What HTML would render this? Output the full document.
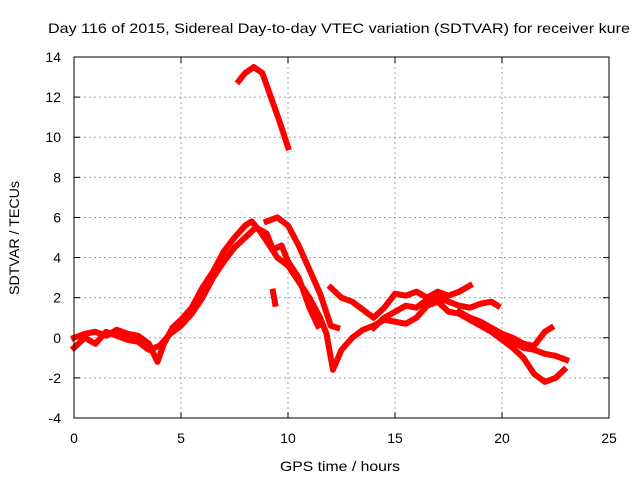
<!DOCTYPE html>
<html><head><meta charset="utf-8"><style>
body{margin:0;background:#fff}
svg{display:block;font-family:"Liberation Sans",sans-serif}
</style></head><body>
<svg id="c" width="640" height="480"></svg>
<script>
const xTicks=[0,5,10,15,20,25];
const yTicks=[-4,-2,0,2,4,6,8,10,12,14];
const trace1X=[7.7,8,8.4,8.8,9.2,9.6,10];
const trace1Y=[12.8,13.2,13.5,13.2,12,10.8,9.5];
const trace2X=[0,0.5,1,1.5,2,2.5,3,3.5,3.9,4.2,4.6,5,5.5,6,6.5,7,7.5,8,8.3,8.7,9.2,9.5,10,10.5,11,11.5,11.8,12.1,12.5,13,13.5,14,14.5,15,15.5,16,16.5,17,17.5,18,18.5,19,19.5,20,20.5,21,21.5,22,22.5,22.9];
const trace2Y=[0,0.2,0.3,0.1,0.4,0.2,0.1,-0.3,-1.2,-0.3,0.5,0.9,1.5,2.5,3.3,4.3,5.0,5.6,5.8,5.3,4.5,4.0,3.6,2.8,2.0,1.0,0.2,-1.6,-0.6,0,0.4,0.6,0.9,0.8,0.7,1.0,1.6,1.8,1.3,1.2,0.9,0.6,0.3,-0.1,-0.5,-1.0,-1.8,-2.2,-2.0,-1.6];
const trace3X=[0,0.5,1,1.5,2,2.5,3,3.5,4,4.5,5,5.5,6,6.5,7,7.5,8,8.5,9,9.3,9.7,10,10.5,11,11.4];
const trace3Y=[-0.5,0,-0.3,0.3,0.1,-0.1,-0.2,-0.6,-0.4,0.2,0.6,1.2,2.0,3.0,3.8,4.5,5.0,5.5,5.2,4.4,4.6,3.8,3.0,1.5,0.6];
const trace4X=[9,9.5,10,10.5,11,11.5,12,12.3];
const trace4Y=[5.8,6.0,5.6,4.6,3.4,2.2,0.6,0.5];
const trace5X=[12,12.5,13,13.5,14,14.5,15,15.5,16,16.5,17,17.5,18,18.5];
const trace5Y=[2.5,2.0,1.8,1.4,1.0,1.5,2.2,2.1,2.3,2.0,2.3,2.1,2.3,2.6];
const trace6X=[14,14.5,15,15.5,16,16.5,17,17.5,18,18.5,19,19.5,19.8];
const trace6Y=[0.5,1.0,1.3,1.6,1.5,1.9,2.0,1.8,1.6,1.5,1.7,1.8,1.6];
const trace7X=[18,18.5,19,19.5,20,20.5,21,21.5,22,22.3];
const trace7Y=[1.3,1.0,0.8,0.5,0.2,0.0,-0.3,-0.4,0.3,0.5];
const trace8X=[20,20.5,21,21.5,22,22.5,23];
const trace8Y=[0.1,-0.2,-0.5,-0.6,-0.8,-0.9,-1.1];
const trace9X=[9.3,9.4];
const trace9Y=[2.3,1.7];
const traces=[[trace1X,trace1Y],[trace2X,trace2Y],[trace3X,trace3Y],[trace4X,trace4Y],[trace5X,trace5Y],[trace6X,trace6Y],[trace7X,trace7Y],[trace8X,trace8Y],[trace9X,trace9Y]];

const L=74,R=609,T=57,B=418;
const sx=v=>L+(v-0)/(25-0)*(R-L);
const sy=v=>B-(v+4)/(14+4)*(B-T);
const svg=document.getElementById('c');
const NS='http://www.w3.org/2000/svg';
function mk(t,a){const e=document.createElementNS(NS,t);for(const k in a)e.setAttribute(k,a[k]);svg.appendChild(e);return e;}
function tx(x,y,s,anchor,rot,size){const e=mk('text',{x:x,y:y,'font-size':size||14,fill:'#000','text-anchor':anchor});if(rot)e.setAttribute('transform',rot);e.textContent=s;return e;}

xTicks.forEach(v=>{
  if(v>0&&v<25){const g=mk('line',{x1:sx(v),x2:sx(v),y1:T,y2:B,stroke:'#a0a0a0','stroke-dasharray':'2,3'});
  
  }
  mk('line',{x1:sx(v),x2:sx(v),y1:B,y2:B-6,stroke:'#000'});
  mk('line',{x1:sx(v),x2:sx(v),y1:T,y2:T+6,stroke:'#000'});
  const t=tx(sx(v),443,String(v),'middle');
  
  
});
yTicks.forEach(v=>{
  if(v>-4&&v<14){const g=mk('line',{x1:L,x2:R,y1:sy(v),y2:sy(v),stroke:'#a0a0a0','stroke-dasharray':'2,3'});
  
  }
  mk('line',{x1:L,x2:L+6,y1:sy(v),y2:sy(v),stroke:'#000'});
  mk('line',{x1:R,x2:R-6,y1:sy(v),y2:sy(v),stroke:'#000'});
  const t=tx(L-13,sy(v)+5,String(v),'end');
  
  
});
traces.forEach(([xs,ys])=>{
  const p=mk('polyline',{points:xs.map((x,i)=>sx(x)+','+sy(ys[i])).join(' '),fill:'none',stroke:'#ff0000','stroke-width':6,'stroke-linejoin':'round','stroke-linecap':'square'});
  
  
});
const fr=mk('rect',{x:L,y:T,width:R-L,height:B-T,fill:'none',stroke:'#000'});


const ti=tx(339,33,'Day 116 of 2015, Sidereal Day-to-day VTEC variation (SDTVAR) for receiver kure','middle',null,14);
ti.setAttribute('textLength','582');
ti.setAttribute('lengthAdjust','spacingAndGlyphs');


const xt=tx(340,471,'GPS time / hours','middle');
xt.setAttribute('textLength','120');
xt.setAttribute('lengthAdjust','spacingAndGlyphs');


const yt=tx(19,238,'SDTVAR / TECUs','middle','rotate(-90 19 238)');
yt.setAttribute('textLength','114');
yt.setAttribute('lengthAdjust','spacingAndGlyphs');


</script>
</body></html>
